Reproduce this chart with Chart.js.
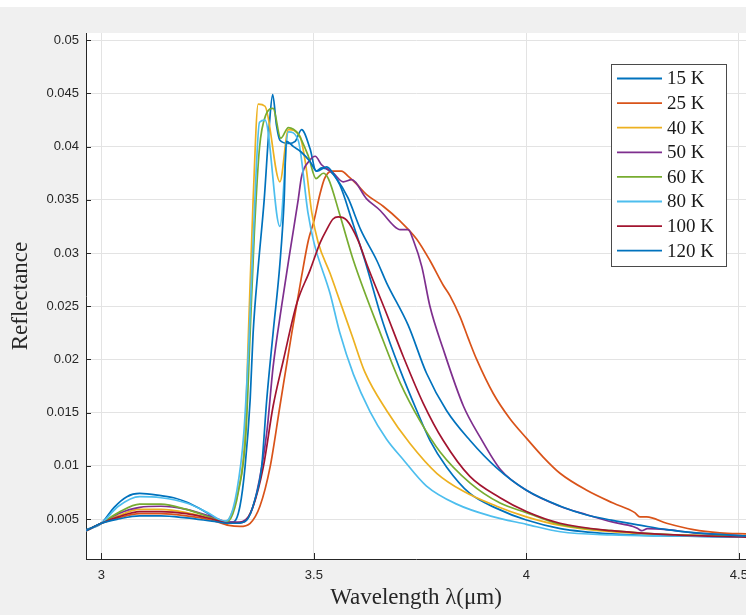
<!DOCTYPE html>
<html>
<head>
<meta charset="utf-8">
<script src="https://cdn.jsdelivr.net/npm/chart.js@4.4.1/dist/chart.umd.min.js"></script>
<style>
  html, body { margin: 0; padding: 0; overflow: hidden; background: #f0f0f0; }
  #c { display: block; }
</style>
</head>
<body>
<canvas id="c" width="746" height="615"></canvas>
<script>
// ---------------- data (wavelength µm, reflectance) ----------------
const seriesLabels = ['15 K', '25 K', '40 K', '50 K', '60 K', '80 K', '100 K', '120 K'];
const seriesColors = ['#0072BD', '#D95319', '#EDB120', '#7E2F8E', '#77AC30', '#4DBEEE', '#A2142F', '#0072BD'];

const s15K = [[2.964,0.0040],[3.00,0.0046],[3.03,0.0061],[3.06,0.0071],[3.09,0.0074],[3.14,0.0072],[3.17,0.0070],[3.20,0.0066],[3.23,0.0060],[3.26,0.0053],[3.29,0.0047],[3.31,0.0047],[3.326,0.0062],[3.338,0.0099],[3.35,0.0162],[3.357,0.0225],[3.369,0.0287],[3.383,0.0350],[3.395,0.0420],[3.403,0.0449],[3.412,0.0420],[3.42,0.0406],[3.44,0.0403],[3.456,0.0405],[3.471,0.0416],[3.491,0.0398],[3.505,0.0377],[3.518,0.0380],[3.538,0.0377],[3.561,0.0364],[3.59,0.0330],[3.62,0.0293],[3.663,0.0234],[3.703,0.0190],[3.742,0.0152],[3.773,0.0124],[3.812,0.0099],[3.867,0.0074],[3.93,0.0060],[4.0,0.0049],[4.08,0.0041],[4.2,0.0036],[4.35,0.0034],[4.52,0.0033]];

const s25K = [[2.964,0.0039],[3.00,0.0046],[3.04,0.0051],[3.09,0.0055],[3.14,0.0055],[3.20,0.0053],[3.26,0.0049],[3.30,0.0044],[3.326,0.0043],[3.35,0.0046],[3.373,0.0062],[3.397,0.0099],[3.42,0.0156],[3.448,0.0225],[3.471,0.0278],[3.487,0.0312],[3.50,0.0330],[3.514,0.0355],[3.525,0.0370],[3.542,0.0377],[3.565,0.0377],[3.581,0.0372],[3.60,0.0365],[3.624,0.0355],[3.663,0.0344],[3.703,0.0330],[3.742,0.0313],[3.773,0.0293],[3.804,0.0270],[3.82,0.0260],[3.844,0.0240],[3.863,0.0220],[3.883,0.0200],[3.922,0.0168],[3.96,0.0145],[4.0,0.0126],[4.04,0.0108],[4.079,0.0093],[4.142,0.0077],[4.204,0.0065],[4.255,0.0056],[4.267,0.0052],[4.283,0.0052],[4.33,0.0046],[4.393,0.0040],[4.455,0.0037],[4.52,0.0036]];

const s40K = [[2.964,0.0039],[3.00,0.0046],[3.04,0.0053],[3.09,0.0059],[3.14,0.0059],[3.20,0.0056],[3.26,0.0050],[3.29,0.0047],[3.303,0.0052],[3.322,0.0077],[3.338,0.0130],[3.346,0.0225],[3.357,0.0350],[3.369,0.0440],[3.385,0.0438],[3.42,0.0367],[3.44,0.0416],[3.467,0.0410],[3.48,0.0385],[3.495,0.0338],[3.51,0.0310],[3.538,0.0281],[3.561,0.0255],[3.59,0.0222],[3.62,0.0188],[3.671,0.0152],[3.726,0.0121],[3.789,0.0093],[3.852,0.0076],[3.93,0.0062],[4.0,0.0052],[4.08,0.0044],[4.2,0.0038],[4.35,0.0035],[4.52,0.0034]];

const s50K = [[2.964,0.0039],[3.00,0.0046],[3.04,0.0055],[3.09,0.0061],[3.14,0.0062],[3.20,0.0059],[3.26,0.0052],[3.30,0.0047],[3.318,0.0047],[3.346,0.0052],[3.365,0.0074],[3.389,0.0131],[3.404,0.0193],[3.424,0.0250],[3.444,0.0302],[3.463,0.0350],[3.471,0.0372],[3.49,0.0387],[3.503,0.0391],[3.518,0.0383],[3.546,0.0375],[3.569,0.0367],[3.589,0.0369],[3.624,0.0351],[3.656,0.0340],[3.687,0.0326],[3.703,0.0322],[3.722,0.0322],[3.734,0.0312],[3.754,0.0287],[3.773,0.0250],[3.804,0.0210],[3.852,0.0156],[3.891,0.0127],[3.94,0.0096],[4.0,0.0077],[4.079,0.0062],[4.142,0.0054],[4.204,0.0047],[4.251,0.0043],[4.262,0.0041],[4.271,0.0039],[4.285,0.0041],[4.33,0.0040],[4.393,0.0037],[4.52,0.0034]];

const s60K = [[2.964,0.0039],[3.00,0.0046],[3.04,0.0056],[3.09,0.0064],[3.14,0.0064],[3.20,0.0059],[3.26,0.0051],[3.29,0.0047],[3.305,0.0051],[3.322,0.0075],[3.340,0.0130],[3.350,0.0225],[3.36,0.0320],[3.372,0.0399],[3.387,0.0430],[3.404,0.0436],[3.422,0.0408],[3.44,0.0418],[3.463,0.0412],[3.487,0.0391],[3.505,0.0370],[3.522,0.0375],[3.534,0.0370],[3.561,0.0336],[3.593,0.0293],[3.656,0.0225],[3.703,0.0178],[3.75,0.0142],[3.797,0.0113],[3.867,0.0084],[3.938,0.0065],[4.0,0.0056],[4.08,0.0045],[4.2,0.0039],[4.35,0.0035],[4.52,0.0034]];

const s80K = [[2.964,0.0039],[3.00,0.0046],[3.04,0.0062],[3.09,0.0071],[3.14,0.0070],[3.20,0.0065],[3.25,0.0056],[3.29,0.0048],[3.30,0.0050],[3.318,0.0075],[3.335,0.0130],[3.348,0.0225],[3.36,0.0340],[3.372,0.0423],[3.385,0.0425],[3.42,0.0325],[3.44,0.0414],[3.463,0.0406],[3.486,0.0338],[3.50,0.0310],[3.538,0.0262],[3.561,0.0225],[3.593,0.0186],[3.632,0.0151],[3.671,0.0125],[3.71,0.0106],[3.765,0.0081],[3.836,0.0064],[3.914,0.0053],[4.0,0.0045],[4.08,0.0038],[4.2,0.0035],[4.35,0.0034],[4.52,0.0033]];

const s100K = [[2.964,0.0039],[3.00,0.0046],[3.04,0.0052],[3.09,0.0057],[3.14,0.0057],[3.20,0.0055],[3.26,0.0050],[3.30,0.0046],[3.334,0.0047],[3.357,0.0062],[3.381,0.0099],[3.404,0.0156],[3.428,0.0199],[3.46,0.0253],[3.491,0.0284],[3.515,0.0310],[3.53,0.0322],[3.545,0.0332],[3.557,0.0334],[3.577,0.0331],[3.604,0.0312],[3.624,0.0290],[3.671,0.0243],[3.71,0.0203],[3.757,0.0159],[3.804,0.0124],[3.867,0.0090],[3.938,0.0070],[4.0,0.0057],[4.079,0.0046],[4.2,0.0039],[4.35,0.0035],[4.52,0.0033]];

const s120K = [[2.964,0.0039],[3.00,0.0046],[3.04,0.0050],[3.09,0.0053],[3.14,0.0053],[3.20,0.0051],[3.26,0.0048],[3.30,0.0046],[3.318,0.0046],[3.342,0.0049],[3.361,0.0068],[3.377,0.0099],[3.389,0.0162],[3.404,0.0225],[3.42,0.0290],[3.430,0.0350],[3.435,0.0405],[3.452,0.0400],[3.47,0.0395],[3.491,0.0386],[3.507,0.0377],[3.53,0.0381],[3.55,0.0372],[3.58,0.0352],[3.61,0.0322],[3.648,0.0293],[3.671,0.0272],[3.722,0.0232],[3.765,0.0187],[3.812,0.0152],[3.867,0.0124],[3.93,0.0098],[4.0,0.0077],[4.08,0.0062],[4.14,0.0054],[4.20,0.0049],[4.27,0.0044],[4.33,0.0040],[4.40,0.0037],[4.52,0.0034]];

const allSeries = [s15K, s25K, s40K, s50K, s60K, s80K, s100K, s120K];

const xTicks = [3, 3.5, 4, 4.5];
const xTickLabels = ['3', '3.5', '4', '4.5'];
const yTicks = [0.005, 0.01, 0.015, 0.02, 0.025, 0.03, 0.035, 0.04, 0.045, 0.05];
const yTickLabels = ['0.005', '0.01', '0.015', '0.02', '0.025', '0.03', '0.035', '0.04', '0.045', '0.05'];

// ---------------- chart ----------------
const AX = '#262626';
const GRID = '#e3e3e3';
const tickFont = { family: 'Liberation Sans, Arial, sans-serif', size: 13 };
const titleFont = { family: 'Liberation Serif, Times New Roman, serif', size: 23 };

const bgPlugin = {
  id: 'bg',
  beforeDraw(chart) {
    const { ctx, width, height, chartArea: a } = chart;
    ctx.save();
    ctx.fillStyle = '#f0f0f0';
    ctx.fillRect(0, 0, width, height);
    ctx.fillStyle = '#ffffff';
    ctx.fillRect(0, 0, width, 7);
    ctx.fillRect(a.left, a.top, a.right - a.left, a.bottom - a.top);
    ctx.restore();
  }
};

const tickMarkPlugin = {
  id: 'tickmarks',
  afterDatasetsDraw(chart) {
    const { ctx, chartArea: a, scales } = chart;
    ctx.save();
    ctx.strokeStyle = AX;
    ctx.lineWidth = 1;
    ctx.beginPath();
    xTicks.forEach(v => {
      const px = Math.round(scales.x.getPixelForValue(v)) + 0.5;
      ctx.moveTo(px, a.bottom);
      ctx.lineTo(px, a.bottom - 6);
    });
    yTicks.forEach(v => {
      const py = Math.round(scales.y.getPixelForValue(v)) + 0.5;
      ctx.moveTo(a.left, py);
      ctx.lineTo(a.left + 5, py);
    });
    ctx.stroke();
    ctx.restore();
  }
};

const legendPlugin = {
  id: 'boxlegend',
  afterDraw(chart) {
    const { ctx } = chart;
    const box = { x: 611, y: 64, w: 115, h: 202 };
    ctx.save();
    ctx.fillStyle = '#ffffff';
    ctx.fillRect(box.x, box.y, box.w, box.h);
    ctx.strokeStyle = '#4a4a4a';
    ctx.lineWidth = 1;
    ctx.strokeRect(box.x + 0.5, box.y + 0.5, box.w, box.h);
    ctx.font = '19px "Liberation Serif", "Times New Roman", serif';
    ctx.textBaseline = 'middle';
    ctx.textAlign = 'left';
    chart.data.datasets.forEach((ds, i) => {
      const cy = 78.5 + i * 24.6;
      ctx.strokeStyle = ds.borderColor;
      ctx.lineWidth = 1.8;
      ctx.beginPath();
      ctx.moveTo(617, cy);
      ctx.lineTo(662, cy);
      ctx.stroke();
      ctx.fillStyle = '#1a1a1a';
      ctx.fillText(ds.label, 667, cy + 1);
    });
    ctx.restore();
  }
};

const datasets = allSeries.map((s, i) => ({
  label: seriesLabels[i],
  data: s.map(p => ({ x: p[0], y: p[1] })),
  borderColor: seriesColors[i],
  backgroundColor: seriesColors[i],
  borderWidth: 1.7,
  pointRadius: 0,
  fill: false,
  cubicInterpolationMode: 'monotone',
  order: allSeries.length - i
}));

new Chart(document.getElementById('c'), {
  type: 'line',
  data: { datasets },
  plugins: [bgPlugin, tickMarkPlugin, legendPlugin],
  options: {
    responsive: false,
    animation: false,
    devicePixelRatio: 1,
    layout: { padding: { top: 33, right: 0, bottom: 0, left: 0 } },
    plugins: { legend: { display: false }, tooltip: { enabled: false } },
    scales: {
      x: {
        type: 'linear',
        min: 2.96376,
        max: 4.51671,
        afterBuildTicks: s => { s.ticks = xTicks.map(v => ({ value: v })); },
        afterFit: s => { s.height = 56; s.paddingLeft = 0; s.paddingRight = 0; },
        ticks: {
          autoSkip: false, maxRotation: 0, minRotation: 0,
          padding: 9, color: AX, font: tickFont,
          callback: (v) => xTickLabels[xTicks.indexOf(v)] ?? ''
        },
        grid: { color: GRID, lineWidth: 1, drawTicks: false },
        border: { color: AX, width: 1 },
        title: {
          display: true, text: 'Wavelength λ(μm)', color: AX, font: titleFont,
          padding: { top: 0, bottom: 3 }
        }
      },
      y: {
        type: 'linear',
        min: 0.00124,
        max: 0.050686,
        afterBuildTicks: s => { s.ticks = yTicks.map(v => ({ value: v })); },
        afterFit: s => { s.width = 86; s.paddingTop = 0; s.paddingBottom = 0; },
        ticks: {
          autoSkip: false, padding: 7, color: AX, font: tickFont,
          callback: (v) => { const k = yTicks.findIndex(t => Math.abs(t - v) < 1e-9); return k >= 0 ? yTickLabels[k] : ''; }
        },
        grid: { color: GRID, lineWidth: 1, drawTicks: false },
        border: { color: AX, width: 1 },
        title: {
          display: true, text: 'Reflectance', color: AX, font: titleFont,
          padding: { top: 7, bottom: 0 }
        }
      }
    }
  }
});
</script>
</body>
</html>
